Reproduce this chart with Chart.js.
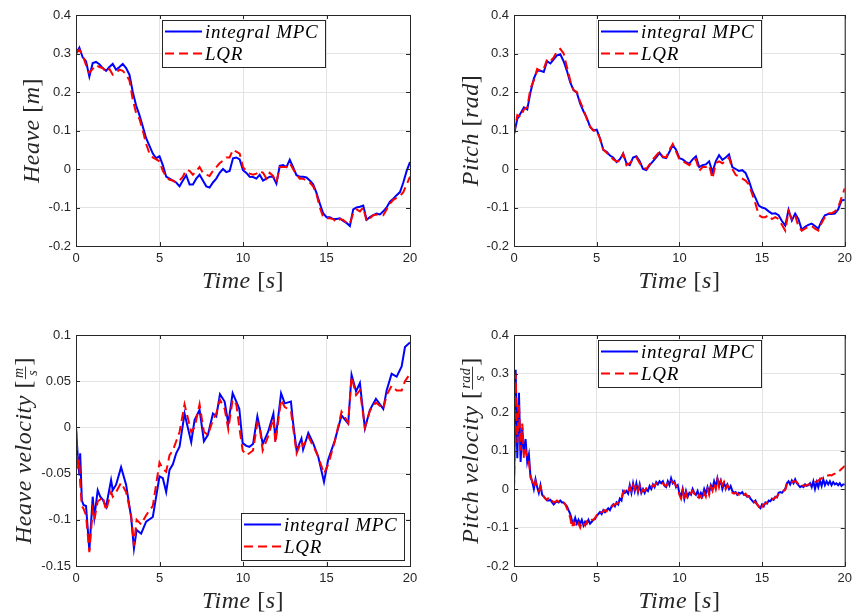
<!DOCTYPE html>
<html>
<head>
<meta charset="utf-8">
<script src="https://cdn.jsdelivr.net/npm/chart.js@4/dist/chart.umd.min.js"></script>
<style>
  body { margin: 0; background: #fff; }
  #page { position: relative; width: 857px; height: 616px; }
  canvas { position: absolute; }
</style>
</head>
<body>
<div id="page">
  <canvas id="heave" width="430" height="300" style="left:0;top:0"></canvas>
  <canvas id="pitch" width="427" height="300" style="left:430px;top:0"></canvas>
  <canvas id="heaveVel" width="430" height="316" style="left:0;top:300px"></canvas>
  <canvas id="pitchVel" width="427" height="316" style="left:430px;top:300px"></canvas>
</div>
<script>
// sample times [s]
const time = [
  0, 0.2, 0.4, 0.6, 0.8, 1, 1.2, 1.4, 1.6, 1.8,
  2, 2.2, 2.4, 2.6, 2.8, 3, 3.2, 3.4, 3.6, 3.8,
  4, 4.2, 4.4, 4.6, 4.8, 5, 5.2, 5.4, 5.6, 5.8,
  6, 6.2, 6.4, 6.6, 6.8, 7, 7.2, 7.4, 7.6, 7.8,
  8, 8.2, 8.4, 8.6, 8.8, 9, 9.2, 9.4, 9.6, 9.8,
  10, 10.2, 10.4, 10.6, 10.8, 11, 11.2, 11.4, 11.6, 11.8,
  12, 12.2, 12.4, 12.6, 12.8, 13, 13.2, 13.4, 13.6, 13.8,
  14, 14.2, 14.4, 14.6, 14.8, 15, 15.2, 15.4, 15.6, 15.8,
  16, 16.2, 16.4, 16.6, 16.8, 17, 17.2, 17.4, 17.6, 17.8,
  18, 18.2, 18.4, 18.6, 18.8, 19, 19.2, 19.4, 19.6, 19.8,
  20
];

const heaveMpc = [
  0.30, 0.315, 0.29, 0.28, 0.24, 0.275, 0.278, 0.272, 0.262, 0.255,
  0.265, 0.273, 0.258, 0.265, 0.273, 0.262, 0.245, 0.2, 0.165, 0.14,
  0.11, 0.08, 0.06, 0.04, 0.028, 0.033, 0.01, -0.02, -0.025, -0.03,
  -0.035, -0.045, -0.03, -0.016, -0.04, -0.04, -0.025, -0.015, -0.03, -0.045,
  -0.048, -0.035, -0.025, -0.01, 0.0, -0.008, -0.005, 0.028, 0.03, 0.025,
  -0.003, -0.01, -0.02, -0.021, -0.025, -0.015, -0.03, -0.025, -0.02, -0.02,
  -0.038, 0.008, 0.01, 0.005, 0.024, 0.005, -0.016, -0.02, -0.02, -0.022,
  -0.03, -0.04, -0.062, -0.09, -0.115, -0.125, -0.125, -0.13, -0.13, -0.128,
  -0.135, -0.14, -0.148, -0.105, -0.1, -0.098, -0.095, -0.132, -0.125, -0.12,
  -0.116, -0.118, -0.11, -0.1, -0.085, -0.077, -0.068, -0.06, -0.035, -0.005,
  0.018
];
const heaveLqr = [
  0.30, 0.31, 0.295, 0.27, 0.25, 0.26, 0.27, 0.265, 0.262, 0.252,
  0.26, 0.245, 0.25, 0.258, 0.255, 0.245, 0.23, 0.18, 0.145, 0.13,
  0.1, 0.065, 0.04, 0.03, 0.025, 0.02, -0.005, -0.02, -0.028, -0.03,
  -0.035, -0.03, -0.02, -0.002, -0.005, -0.015, -0.005, 0.005, -0.01, -0.015,
  -0.018, -0.005, 0.005, 0.015, 0.022, 0.03, 0.03, 0.05, 0.045, 0.04,
  0.005, -0.005, -0.012, -0.015, -0.012, -0.005, -0.01, -0.025, -0.01, -0.018,
  -0.035, 0.005, 0.005, 0.005, 0.015, 0.0, -0.015, -0.025, -0.025, -0.03,
  -0.035, -0.045, -0.065, -0.1, -0.125, -0.128, -0.128, -0.13, -0.138, -0.13,
  -0.132, -0.14, -0.142, -0.115, -0.105, -0.11, -0.1, -0.135, -0.128, -0.12,
  -0.118, -0.12, -0.12, -0.105, -0.09, -0.08, -0.075, -0.07, -0.06, -0.04,
  -0.02
];

const pitchMpc = [
  0.09, 0.13, 0.145, 0.16, 0.155, 0.2, 0.235, 0.255, 0.255, 0.252,
  0.28, 0.274, 0.285, 0.295, 0.298, 0.28, 0.255, 0.225, 0.205, 0.198,
  0.17, 0.15, 0.133, 0.11, 0.1, 0.102, 0.08, 0.05, 0.045, 0.035,
  0.03, 0.018, 0.025, 0.04, 0.015, 0.01, 0.03, 0.033, 0.02, 0.0,
  -0.003, 0.01, 0.02, 0.03, 0.042, 0.03, 0.028, 0.045, 0.062, 0.05,
  0.028, 0.025, 0.018, 0.014, 0.025, 0.033, 0.005, 0.01, 0.012, 0.02,
  -0.008, 0.02, 0.036, 0.024, 0.03, 0.038, 0.005, 0.0, -0.005, -0.003,
  -0.01, -0.03, -0.056, -0.075, -0.095, -0.1, -0.103, -0.11, -0.116, -0.115,
  -0.12, -0.135, -0.147, -0.106, -0.134, -0.116, -0.13, -0.158, -0.15, -0.145,
  -0.142, -0.148, -0.155, -0.135, -0.12, -0.117, -0.117, -0.116, -0.105, -0.082,
  -0.08
];
const pitchLqr = [
  0.09, 0.14, 0.135, 0.155, 0.16, 0.21, 0.23, 0.26, 0.255, 0.26,
  0.285, 0.28, 0.29, 0.305, 0.312, 0.3, 0.265, 0.23, 0.205, 0.2,
  0.175, 0.155, 0.13, 0.11, 0.1, 0.1, 0.078, 0.05, 0.042, 0.035,
  0.025, 0.02, 0.02, 0.04, 0.01, 0.015, 0.025, 0.03, 0.015, 0.005,
  0.0, 0.012, 0.025, 0.035, 0.045, 0.032, 0.03, 0.05, 0.065, 0.045,
  0.025, 0.02, 0.015, 0.01, 0.02, 0.025, -0.005, 0.005, 0.005, 0.01,
  -0.025, 0.015, 0.02, 0.015, 0.02, 0.03, 0.0, -0.015, -0.02, -0.025,
  -0.03, -0.04, -0.065, -0.09, -0.12, -0.125, -0.125, -0.12, -0.13, -0.125,
  -0.13, -0.145, -0.16, -0.11, -0.13, -0.12, -0.15, -0.16, -0.155, -0.15,
  -0.148, -0.155, -0.16, -0.14, -0.125, -0.115, -0.115, -0.11, -0.1, -0.075,
  -0.05
];

// heave velocity is logged on an uneven grid
const hvTime = [
  0, 0.1, 0.2, 0.25, 0.35, 0.45, 0.6, 0.8, 1.0, 1.1,
  1.3, 1.45, 1.6, 1.8, 2.1, 2.2, 2.4, 2.7, 3.0, 3.3,
  3.47, 3.63, 3.9, 4.2, 4.6, 5.0, 5.2, 5.4, 5.6, 5.8,
  6.0, 6.2, 6.5, 6.9, 7.1, 7.4, 7.66, 7.9, 8.2, 8.4,
  8.62, 8.9, 9.12, 9.38, 9.6, 9.78, 9.98, 10.2, 10.38, 10.6,
  10.86, 11.0, 11.18, 11.5, 11.82, 11.94, 12.28, 12.5, 12.87, 13.0,
  13.21, 13.5, 13.6, 13.91, 14.2, 14.51, 14.85, 15.1, 15.5, 15.9,
  16.3, 16.5, 16.77, 17.0, 17.3, 17.6, 17.96, 18.4, 18.6, 18.9,
  19.2, 19.5, 19.7, 20.0
];
const heaveVelMpc = [
  0, -0.03, -0.052, -0.028, -0.079, -0.084, -0.085, -0.133, -0.075, -0.097,
  -0.068, -0.075, -0.078, -0.086, -0.057, -0.068, -0.062, -0.043, -0.062, -0.097,
  -0.131, -0.111, -0.115, -0.102, -0.097, -0.053, -0.055, -0.07, -0.046, -0.04,
  -0.028, -0.021, 0.015, -0.016, 0.008, 0.019, -0.015, -0.008, 0.015, 0.012,
  0.036, 0.028, 0.004, 0.037, 0.028, 0.02, -0.017, -0.02, -0.021, -0.018,
  0.012, 0.0, -0.018, -0.005, 0.015, -0.014, 0.037, 0.026, 0.028, 0.005,
  -0.025, -0.012, -0.024, -0.006, -0.017, -0.032, -0.059, -0.035, -0.014, 0.013,
  0.004, 0.057, 0.039, 0.048, -0.001, 0.019, 0.031, 0.02, 0.04, 0.058,
  0.055, 0.066, 0.087, 0.092
];
const heaveVelLqr = [
  0, -0.045, -0.035, -0.06, -0.085, -0.088, -0.095, -0.135, -0.09, -0.1,
  -0.08, -0.078, -0.075, -0.09, -0.07, -0.075, -0.07, -0.06, -0.07, -0.095,
  -0.128, -0.1, -0.105, -0.095, -0.085, -0.038, -0.045, -0.048, -0.03, -0.025,
  -0.015, -0.005, 0.025, -0.005, 0.0, 0.025, -0.005, -0.008, 0.008, 0.015,
  0.03, 0.02, -0.002, 0.03, 0.025, 0.0, -0.025, -0.03, -0.028, -0.025,
  0.005, 0.0, -0.025, -0.01, 0.01, -0.017, 0.03, 0.022, 0.018, 0.0,
  -0.028, -0.015, -0.02, -0.01, -0.02, -0.032, -0.05, -0.04, -0.015, 0.017,
  0.005, 0.055, 0.035, 0.04, 0.0, 0.018, 0.027, 0.02, 0.035, 0.045,
  0.04, 0.04, 0.05, 0.058
];

// pitch velocity is logged at 10 Hz
const pvTime = [
  0, 0.1, 0.2, 0.3, 0.4, 0.5, 0.6, 0.7, 0.8, 0.9,
  1, 1.1, 1.2, 1.3, 1.4, 1.5, 1.6, 1.7, 1.8, 1.9,
  2, 2.1, 2.2, 2.3, 2.4, 2.5, 2.6, 2.7, 2.8, 2.9,
  3, 3.1, 3.2, 3.3, 3.4, 3.5, 3.6, 3.7, 3.8, 3.9,
  4, 4.1, 4.2, 4.3, 4.4, 4.5, 4.6, 4.7, 4.8, 4.9,
  5, 5.1, 5.2, 5.3, 5.4, 5.5, 5.6, 5.7, 5.8, 5.9,
  6, 6.1, 6.2, 6.3, 6.4, 6.5, 6.6, 6.7, 6.8, 6.9,
  7, 7.1, 7.2, 7.3, 7.4, 7.5, 7.6, 7.7, 7.8, 7.9,
  8, 8.1, 8.2, 8.3, 8.4, 8.5, 8.6, 8.7, 8.8, 8.9,
  9, 9.1, 9.2, 9.3, 9.4, 9.5, 9.6, 9.7, 9.8, 9.9,
  10, 10.1, 10.2, 10.3, 10.4, 10.5, 10.6, 10.7, 10.8, 10.9,
  11, 11.1, 11.2, 11.3, 11.4, 11.5, 11.6, 11.7, 11.8, 11.9,
  12, 12.1, 12.2, 12.3, 12.4, 12.5, 12.6, 12.7, 12.8, 12.9,
  13, 13.1, 13.2, 13.3, 13.4, 13.5, 13.6, 13.7, 13.8, 13.9,
  14, 14.1, 14.2, 14.3, 14.4, 14.5, 14.6, 14.7, 14.8, 14.9,
  15, 15.1, 15.2, 15.3, 15.4, 15.5, 15.6, 15.7, 15.8, 15.9,
  16, 16.1, 16.2, 16.3, 16.4, 16.5, 16.6, 16.7, 16.8, 16.9,
  17, 17.1, 17.2, 17.3, 17.4, 17.5, 17.6, 17.7, 17.8, 17.9,
  18, 18.1, 18.2, 18.3, 18.4, 18.5, 18.6, 18.7, 18.8, 18.9,
  19, 19.1, 19.2, 19.3, 19.4, 19.5, 19.6, 19.7, 19.8, 19.9,
  20
];
const pitchVelMpc = [
  0.0, 0.31, 0.08, 0.25, 0.07, 0.16, 0.09, 0.13, 0.07, 0.09,
  0.03, 0.02, 0.0, 0.025, 0.005, -0.01, 0.01, -0.015, -0.02, -0.025,
  -0.03, -0.03, -0.028, -0.035, -0.04, -0.035, -0.032, -0.035, -0.03, -0.035,
  -0.035, -0.04, -0.045, -0.055, -0.065, -0.08, -0.09, -0.075, -0.09, -0.08,
  -0.09, -0.08, -0.095, -0.085, -0.09, -0.08, -0.09, -0.085, -0.08, -0.078,
  -0.07, -0.065, -0.06, -0.065, -0.055, -0.06, -0.055, -0.05, -0.055, -0.045,
  -0.04, -0.045, -0.035, -0.04, -0.025, -0.03, -0.005, -0.01, -0.005, -0.012,
  0.01, -0.01, 0.015, -0.005, 0.015, -0.008, 0.012, -0.01, 0.0, -0.01,
  0.0, -0.005, 0.008, 0.0, 0.012, 0.005, 0.018, 0.012, 0.02, 0.015,
  0.02, 0.008, 0.005, 0.02, 0.01, 0.028, 0.015, 0.02, 0.005, 0.01,
  -0.01, -0.02, 0.0, -0.025, -0.005, -0.02, -0.01, -0.015, 0.0, -0.01,
  -0.015, -0.005, -0.02, -0.01, -0.018, 0.0, -0.012, 0.005, -0.01, 0.01,
  0.0, 0.02, 0.005, 0.028, 0.01, 0.022, 0.0, 0.015, 0.005, 0.012,
  0.0, 0.008, -0.005, -0.01, -0.008, -0.015, -0.01, -0.012, -0.008, -0.015,
  -0.015, -0.02, -0.018, -0.025, -0.03, -0.035, -0.03, -0.04, -0.045, -0.05,
  -0.04, -0.045, -0.035, -0.038, -0.03, -0.032, -0.025, -0.028, -0.02, -0.022,
  -0.01, -0.008, -0.01, -0.005, 0.0, 0.015, 0.02, 0.012, 0.022, 0.015,
  0.025, 0.015, 0.01, 0.005, 0.008, 0.005, 0.012, 0.008, 0.01, 0.015,
  0.005, 0.02, 0.0, 0.018, 0.005, 0.022, 0.008, 0.025, 0.01, 0.02,
  0.012, 0.02, 0.01, 0.018, 0.012, 0.015, 0.01, 0.015, 0.008, 0.012,
  0.012
];
const pitchVelLqr = [
  0.0, 0.30, 0.12, 0.22, 0.10, 0.17, 0.08, 0.10, 0.08, 0.07,
  0.035, 0.02, 0.005, 0.02, 0.0, -0.005, 0.005, -0.01, -0.02, -0.025,
  -0.028, -0.022, -0.022, -0.03, -0.035, -0.033, -0.03, -0.033, -0.032, -0.035,
  -0.035, -0.04, -0.05, -0.06, -0.075, -0.1, -0.085, -0.095, -0.1, -0.09,
  -0.1, -0.085, -0.09, -0.095, -0.085, -0.09, -0.085, -0.08, -0.08, -0.075,
  -0.068, -0.062, -0.065, -0.06, -0.058, -0.055, -0.058, -0.052, -0.05, -0.048,
  -0.042, -0.04, -0.038, -0.035, -0.03, -0.025, -0.01, -0.005, -0.012, -0.008,
  0.005, -0.005, 0.01, 0.0, 0.012, -0.005, 0.008, -0.008, -0.002, -0.005,
  0.002, 0.0, 0.005, 0.005, 0.01, 0.008, 0.015, 0.015, 0.018, 0.017,
  0.015, 0.01, 0.008, 0.015, 0.012, 0.02, 0.018, 0.015, 0.008, 0.005,
  -0.015, -0.025, -0.005, -0.028, -0.01, -0.025, -0.015, -0.01, -0.005, -0.012,
  -0.02, -0.025, -0.015, -0.02, -0.028, -0.01, -0.02, 0.0, -0.015, 0.005,
  -0.005, 0.015, 0.0, 0.025, 0.005, 0.02, 0.01, 0.018, 0.0, 0.01,
  0.005, 0.0, -0.01, -0.012, -0.01, -0.012, -0.015, -0.01, -0.012, -0.015,
  -0.012, -0.018, -0.02, -0.022, -0.028, -0.032, -0.035, -0.04, -0.045, -0.055,
  -0.045, -0.04, -0.038, -0.035, -0.033, -0.03, -0.028, -0.025, -0.022, -0.02,
  -0.012, -0.01, -0.008, -0.005, -0.002, 0.012, 0.015, 0.02, 0.018, 0.02,
  0.02, 0.018, 0.012, 0.008, 0.006, 0.01, 0.008, 0.01, 0.012, 0.012,
  0.012, 0.015, 0.018, 0.02, 0.022, 0.025, 0.028, 0.03, 0.032, 0.035,
  0.035, 0.036, 0.035, 0.038, 0.04, 0.045, 0.045, 0.048, 0.052, 0.056,
  0.06
];

// axis ticks
const timeTicks = [0, 5, 10, 15, 20];
const posTicks = [-0.2, -0.1, 0, 0.1, 0.2, 0.3, 0.4];
const heaveVelTicks = [-0.15, -0.1, -0.05, 0, 0.05, 0.1];

const frameColor = '#262626';
const gridColor = '#e3e3e3';
const serif = '"Liberation Serif", "Times New Roman", serif';
const tickFont = { family: '"Liberation Sans", Arial, sans-serif', size: 13 };

function series(xs, ys) {
  return xs.map((x, i) => ({ x: x, y: ys[i] }));
}

function setFont(ctx, size, italic) {
  ctx.font = (italic ? 'italic ' : '') + size + 'px ' + serif;
}

// latex-ish label: [text, 'i'|'r'] pieces or {frac: [num, den]}
function partWidth(ctx, p, size) {
  if (p.frac) {
    setFont(ctx, 14, true);
    return Math.max(ctx.measureText(p.frac[0]).width, ctx.measureText(p.frac[1]).width) + 4;
  }
  setFont(ctx, size, p[1] === 'i');
  return ctx.measureText(p[0]).width;
}

function drawMath(ctx, parts, cx, base, size) {
  ctx.letterSpacing = '0.5px';
  const widths = parts.map(p => partWidth(ctx, p, size));
  let u = cx - widths.reduce((a, b) => a + b, 0) / 2;
  ctx.fillStyle = frameColor;
  ctx.textBaseline = 'alphabetic';
  parts.forEach((p, i) => {
    if (p.frac) {
      const w = widths[i];
      setFont(ctx, 14, true);
      ctx.textAlign = 'center';
      ctx.fillText(p.frac[0], u + w / 2, base - 8);
      ctx.fillText(p.frac[1], u + w / 2, base + 6);
      ctx.textAlign = 'left';
      ctx.strokeStyle = frameColor;
      ctx.lineWidth = 0.9;
      ctx.beginPath();
      ctx.moveTo(u + 1, base - 5.5);
      ctx.lineTo(u + w - 1, base - 5.5);
      ctx.stroke();
    } else {
      setFont(ctx, size, p[1] === 'i');
      ctx.textAlign = 'left';
      ctx.fillText(p[0], u, base);
    }
    u += widths[i];
  });
  ctx.letterSpacing = '0px';
}

function drawLegend(chart, where) {
  const { ctx, chartArea: a } = chart;
  const w = 163, h = 47;
  let x, y;
  if (where === 'north') {
    x = Math.round((a.left + a.right) / 2 - w / 2);
    y = a.top + 5;
  } else {
    x = a.right - 6 - w;
    y = a.bottom - 6 - h;
  }
  ctx.fillStyle = '#fff';
  ctx.fillRect(x, y, w, h);
  ctx.strokeStyle = frameColor;
  ctx.lineWidth = 1;
  ctx.strokeRect(x + 0.5, y + 0.5, w, h);
  chart.data.datasets.forEach((ds, i) => {
    const ry = y + 11.5 + i * 22;
    ctx.beginPath();
    ctx.strokeStyle = ds.borderColor;
    ctx.lineWidth = ds.borderWidth;
    ctx.setLineDash(ds.borderDash || []);
    ctx.moveTo(x + 3, ry);
    ctx.lineTo(x + 40, ry);
    ctx.stroke();
    ctx.setLineDash([]);
    ctx.fillStyle = '#000';
    setFont(ctx, 19, true);
    ctx.letterSpacing = '0.7px';
    ctx.textAlign = 'left';
    ctx.textBaseline = 'alphabetic';
    ctx.fillText(ds.label, x + 43, ry + 6);
    ctx.letterSpacing = '0px';
  });
}

// box, inward ticks, labels and legend drawn over the lines
const framePlugin = {
  id: 'matlabFrame',
  afterDatasetsDraw(chart, args, opts) {
    const { ctx, chartArea: a, scales } = chart;
    ctx.save();
    ctx.strokeStyle = frameColor;
    ctx.lineWidth = 1;
    ctx.beginPath();
    scales.x.ticks.forEach(t => {
      const px = Math.round(scales.x.getPixelForValue(t.value)) + 0.5;
      ctx.moveTo(px, a.bottom); ctx.lineTo(px, a.bottom - 4);
      ctx.moveTo(px, a.top); ctx.lineTo(px, a.top + 4);
    });
    scales.y.ticks.forEach(t => {
      const py = Math.round(scales.y.getPixelForValue(t.value)) + 0.5;
      ctx.moveTo(a.left, py); ctx.lineTo(a.left + 4, py);
      ctx.moveTo(a.right, py); ctx.lineTo(a.right - 4, py);
    });
    ctx.stroke();
    ctx.strokeRect(a.left + 0.5, a.top + 0.5, a.right - a.left, a.bottom - a.top);

    drawLegend(chart, opts.legendAt);

    drawMath(ctx, opts.xTitle, (a.left + a.right) / 2, a.bottom + 42, 24);
    ctx.save();
    ctx.translate(a.left - opts.yGap, (a.top + a.bottom) / 2);
    ctx.rotate(-Math.PI / 2);
    drawMath(ctx, opts.yTitle, 0, 0, 24);
    ctx.restore();
    ctx.restore();
  }
};

function makePanel(id, cfg) {
  const canvas = document.getElementById(id);
  const W = canvas.width, H = canvas.height;
  const box = cfg.box; // left, top, right, bottom of the plot area
  return new Chart(canvas, {
    type: 'line',
    data: {
      datasets: [
        { label: 'integral MPC', data: series(cfg.time, cfg.mpc), borderColor: '#0000ff',
          borderWidth: 2, pointRadius: 0, order: 2 },
        { label: 'LQR', data: series(cfg.time, cfg.lqr), borderColor: '#ff0000',
          borderWidth: 2, borderDash: [9, 5], pointRadius: 0, order: 1 }
      ]
    },
    options: {
      responsive: false,
      animation: false,
      events: [],
      layout: { padding: { left: 0, top: box[1], right: W - box[2], bottom: 0 } },
      scales: {
        x: {
          type: 'linear', min: 0, max: 20,
          afterBuildTicks: s => { s.ticks = timeTicks.map(v => ({ value: v })); },
          afterFit: s => { s.height = H - box[3]; },
          grid: { color: gridColor, drawTicks: false },
          border: { display: false },
          ticks: { padding: 5, color: frameColor, font: tickFont, autoSkip: false,
                   maxRotation: 0, callback: v => String(v) }
        },
        y: {
          min: cfg.yTicks[0], max: cfg.yTicks[cfg.yTicks.length - 1],
          afterBuildTicks: s => { s.ticks = cfg.yTicks.map(v => ({ value: v })); },
          afterFit: s => { s.width = box[0]; },
          grid: { color: gridColor, drawTicks: false },
          border: { display: false },
          ticks: { padding: 5, color: frameColor, font: tickFont, autoSkip: false,
                   callback: v => String(v) }
        }
      },
      plugins: {
        legend: { display: false },
        tooltip: { enabled: false },
        matlabFrame: { legendAt: cfg.legendAt, xTitle: cfg.xTitle, yTitle: cfg.yTitle, yGap: cfg.yGap }
      }
    },
    plugins: [framePlugin]
  });
}

const timeLabel = [['Time', 'i'], [' ', 'r'], ['[', 'r'], ['s', 'i'], [']', 'r']];

makePanel('heave', {
  box: [76, 15, 410, 246], time: time, mpc: heaveMpc, lqr: heaveLqr, yTicks: posTicks,
  legendAt: 'north', xTitle: timeLabel, yGap: 37,
  yTitle: [['Heave', 'i'], [' ', 'r'], ['[', 'r'], ['m', 'i'], [']', 'r']]
});
makePanel('pitch', {
  box: [84, 15, 419, 246], time: time, mpc: pitchMpc, lqr: pitchLqr, yTicks: posTicks,
  legendAt: 'north', xTitle: timeLabel, yGap: 36,
  yTitle: [['Pitch', 'i'], [' ', 'r'], ['[', 'r'], ['rad', 'i'], [']', 'r']]
});
makePanel('heaveVel', {
  box: [76, 35, 410, 266], time: hvTime, mpc: heaveVelMpc, lqr: heaveVelLqr, yTicks: heaveVelTicks,
  legendAt: 'southeast', xTitle: timeLabel, yGap: 45,
  yTitle: [['Heave velocity', 'i'], [' ', 'r'], ['[', 'r'], { frac: ['m', 's'] }, [']', 'r']]
});
makePanel('pitchVel', {
  box: [84, 35, 419, 266], time: pvTime, mpc: pitchVelMpc, lqr: pitchVelLqr, yTicks: posTicks,
  legendAt: 'north', xTitle: timeLabel, yGap: 36,
  yTitle: [['Pitch velocity', 'i'], [' ', 'r'], ['[', 'r'], { frac: ['rad', 's'] }, [']', 'r']]
});
</script>
</body>
</html>
